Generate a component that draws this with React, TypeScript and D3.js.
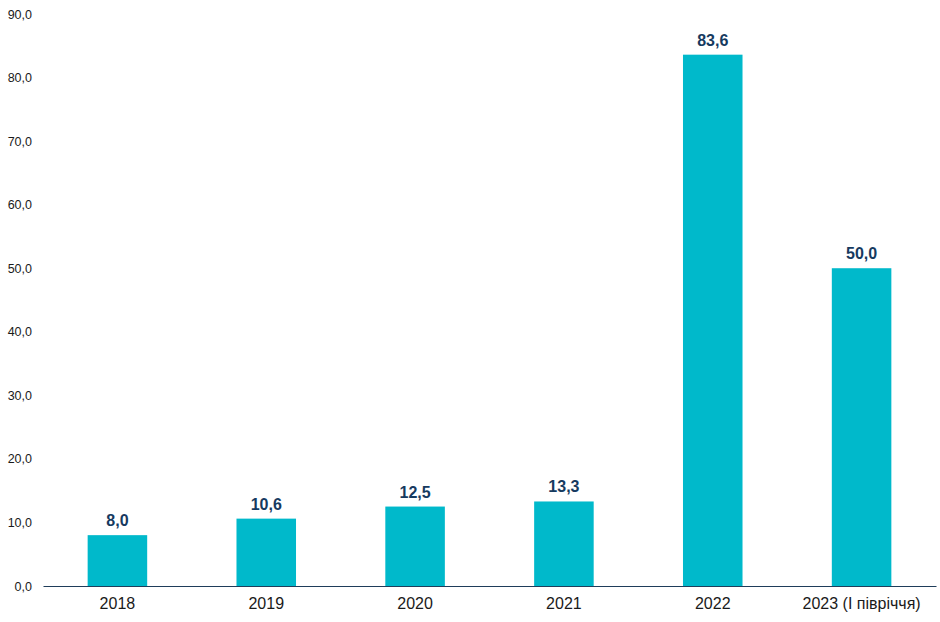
import { useRef, useEffect } from "react";
import * as d3 from "d3";

const categories = ["2018", "2019", "2020", "2021", "2022", "2023 (І півріччя)"];
const values = [8.0, 10.6, 12.5, 13.3, 83.6, 50.0];
const yTicks = [0, 10, 20, 30, 40, 50, 60, 70, 80, 90];

const fmt = (v: number) => v.toFixed(1).replace(".", ",");

export default function App() {
  const svgRef = useRef<SVGSVGElement>(null);

  useEffect(() => {
    const svg = d3.select(svgRef.current);
    svg.selectAll("*").remove();

    const width = 940;
    const height = 622;
    const left = 43;
    const right = 936;
    const top = 14;
    const bottom = 586;

    svg.attr("width", width).attr("height", height);

    const x = d3
      .scaleBand<string>()
      .domain(categories)
      .range([left, right])
      .paddingInner(0.6)
      .paddingOuter(0.3);

    const y = d3.scaleLinear().domain([0, 90]).range([bottom, top]);

    // eje Y (solo etiquetas)
    const yAxis = svg
      .append("g")
      .attr("transform", `translate(${left},0)`)
      .call(
        d3
          .axisLeft(y)
          .tickValues(yTicks)
          .tickFormat((d) => fmt(d as number))
          .tickSize(0)
          .tickPadding(11)
      );
    yAxis.select(".domain").remove();
    yAxis
      .selectAll("text")
      .attr("font-family", "Liberation Sans, Arial, sans-serif")
      .attr("font-size", 12.5)
      .attr("fill", "#1a1a1a");

    // barras
    svg
      .append("g")
      .selectAll("rect")
      .data(values)
      .join("rect")
      .attr("x", (_, i) => x(categories[i])!)
      .attr("y", (d) => y(d))
      .attr("width", x.bandwidth())
      .attr("height", (d) => bottom - y(d))
      .attr("fill", "#00b9cb");

    // valores
    svg
      .append("g")
      .selectAll("text")
      .data(values)
      .join("text")
      .attr("x", (_, i) => x(categories[i])! + x.bandwidth() / 2)
      .attr("y", (d) => y(d) - 9)
      .attr("text-anchor", "middle")
      .attr("font-family", "Liberation Sans, Arial, sans-serif")
      .attr("font-weight", "bold")
      .attr("font-size", 16)
      .attr("fill", "#163a5f")
      .text((d) => fmt(d));

    // eje X
    const xAxis = svg
      .append("g")
      .attr("transform", `translate(0,${bottom})`)
      .call(d3.axisBottom(x).tickSize(0).tickPadding(12).tickSizeOuter(0));
    xAxis
      .select(".domain")
      .attr("stroke", "#1f3d5a")
      .attr("stroke-width", 1.2);
    xAxis
      .selectAll("text")
      .attr("font-family", "Liberation Sans, Arial, sans-serif")
      .attr("font-size", 16)
      .attr("fill", "#1a1a1a");
  }, []);

  return (
    <svg
      ref={svgRef}
      style={{ position: "absolute", left: 0, top: 0, display: "block" }}
    ></svg>
  );
}
